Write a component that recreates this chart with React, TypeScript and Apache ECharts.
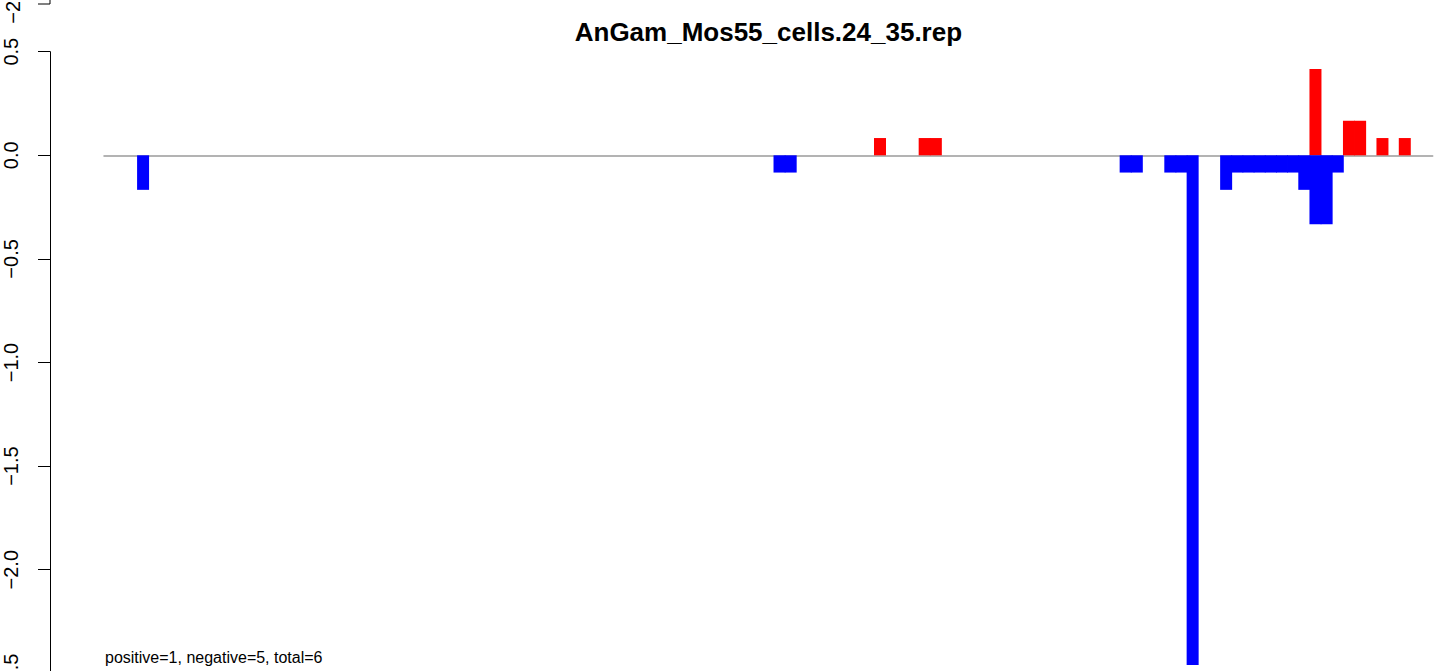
import React, { useEffect, useRef } from "react";
import * as echarts from "echarts";

// ---- data ----
const titleText = "AnGam_Mos55_cells.24_35.rep";
const footerText = "positive=1, negative=5, total=6";
const slotCount = 119;
const posSlots = [69, 73, 74, 108, 111, 112, 114, 116];
const posValues = [0.0833, 0.0833, 0.0833, 0.4167, 0.1667, 0.1667, 0.0833, 0.0833];
const negSlots = [3, 60, 61, 91, 92, 95, 96, 97, 100, 101, 102, 103, 104, 105, 106, 107, 108, 109, 110];
const negValues = [
  -0.1667, -0.0833, -0.0833, -0.0833, -0.0833, -0.0833, -0.0833, -2.46, -0.1667,
  -0.0833, -0.0833, -0.0833, -0.0833, -0.0833, -0.0833, -0.1667, -0.3333, -0.3333, -0.0833,
];
const yMin = -2.5;
const yMax = 0.5;
const yStep = 0.5;
const prevPanelLabel = "\u22122.5";

const FONT = "'Liberation Sans', Arial, Helvetica, sans-serif";

function fmt(v: number): string {
  const s = v.toFixed(1);
  return s.startsWith("-") ? "\u2212" + s.slice(1) : s;
}

export default function App() {
  const ref = useRef<HTMLDivElement>(null);
  useEffect(() => {
    if (!ref.current) return;
    const chart = echarts.init(ref.current, undefined, { renderer: "svg" });
    const categories = Array.from({ length: slotCount }, (_, i) => String(i));
    const posData: (number | null)[] = categories.map(() => null);
    posSlots.forEach((s, i) => (posData[s] = posValues[i]));
    const negData: (number | null)[] = categories.map(() => null);
    negSlots.forEach((s, i) => (negData[s] = negValues[i]));

    chart.setOption({
      animation: false,
      backgroundColor: "#ffffff",
      textStyle: { fontFamily: FONT },
      grid: {
        left: 104,
        right: 8.3,
        top: 51.7,
        height: 621.6,
        containLabel: false,
        outerBoundsMode: "none",
      },
      xAxis: {
        type: "category",
        data: categories,
        boundaryGap: true,
        axisLine: { show: true, onZero: true, lineStyle: { color: "#9a9a9a", width: 1.5 } },
        axisTick: { show: false },
        axisLabel: { show: false },
        splitLine: { show: false },
      },
      yAxis: {
        type: "value",
        min: yMin,
        max: yMax,
        interval: yStep,
        offset: 54,
        axisLine: { show: true, lineStyle: { color: "#000", width: 1 } },
        axisTick: { show: true, length: 12, lineStyle: { color: "#000", width: 1 } },
        axisLabel: {
          show: true,
          rotate: 90,
          margin: 29,
          color: "#000",
          fontSize: 20,
          fontFamily: FONT,
          formatter: (v: number) => fmt(v),
        },
        splitLine: { show: false },
      },
      series: [
        {
          name: "positive",
          type: "bar",
          data: posData,
          barWidth: 12,
          barGap: "-100%",
          itemStyle: { color: "#ff0000" },
        },
        {
          name: "negative",
          type: "bar",
          data: negData,
          barWidth: 12,
          barGap: "-100%",
          itemStyle: { color: "#0000ff" },
        },
      ],
      graphic: [
        {
          type: "text",
          x: 768.4,
          y: 31.5,
          style: {
            text: titleText,
            fontSize: 26,
            fontWeight: "bold",
            fontFamily: FONT,
            fill: "#000",
            align: "center",
            verticalAlign: "middle",
          },
        },
        {
          type: "text",
          x: 105,
          y: 657.5,
          style: {
            text: footerText,
            fontSize: 16,
            fontFamily: FONT,
            fill: "#000",
            align: "left",
            verticalAlign: "middle",
          },
        },
        {
          type: "text",
          x: 13,
          y: 4,
          rotation: Math.PI / 2,
          style: {
            text: prevPanelLabel,
            fontSize: 20,
            fontFamily: FONT,
            fill: "#000",
            align: "center",
            verticalAlign: "middle",
          },
        },
        {
          type: "polyline",
          shape: { points: [[50, 0], [50, 4], [38, 4]] },
          style: { stroke: "#000", lineWidth: 1, fill: null },
        },
      ],
    });
    return () => chart.dispose();
  }, []);
  return (
    <div
      ref={ref}
      style={{ position: "fixed", left: 0, top: 0, width: 1441, height: 671, background: "#fff" }}
    />
  );
}
